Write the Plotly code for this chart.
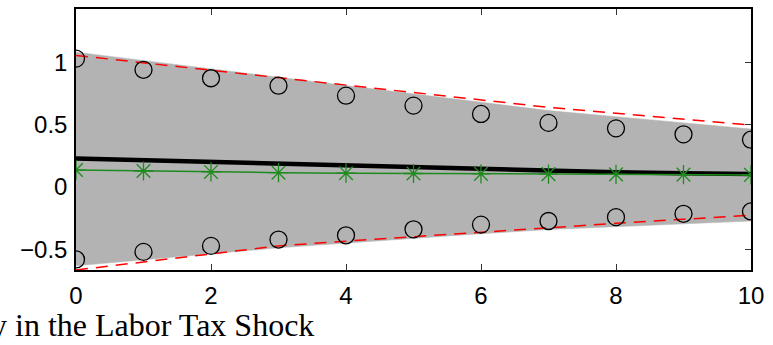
import plotly.graph_objects as go

# Horizon (periods after the shock)
periods = [0, 1, 2, 3, 4, 5, 6, 7, 8, 9, 10]

# Shaded confidence band
band_upper = [1.084, 1.016, 0.948, 0.880, 0.812, 0.745, 0.680, 0.614, 0.565, 0.515, 0.466]
band_lower = [-0.634, -0.586, -0.538, -0.490, -0.452, -0.414, -0.376, -0.343, -0.319, -0.296, -0.274]

# Dashed bounds
dash_upper = [1.058, 0.998, 0.938, 0.878, 0.818, 0.758, 0.698, 0.640, 0.592, 0.545, 0.498]
dash_lower = [-0.668, -0.603, -0.538, -0.474, -0.436, -0.399, -0.362, -0.326, -0.293, -0.260, -0.228]

# Circle bounds
circ_upper = [1.032, 0.942, 0.874, 0.814, 0.734, 0.654, 0.587, 0.515, 0.471, 0.423, 0.380]
circ_lower = [-0.583, -0.522, -0.474, -0.423, -0.389, -0.341, -0.303, -0.274, -0.243, -0.216, -0.197]

# Central responses
median_resp = [0.228, 0.214, 0.201, 0.190, 0.171, 0.156, 0.141, 0.128, 0.119, 0.111, 0.104]
model_resp = [0.136, 0.128, 0.121, 0.115, 0.111, 0.108, 0.105, 0.103, 0.101, 0.099, 0.097]

x_ticks = [0, 2, 4, 6, 8, 10]
y_ticks = [-0.5, 0, 0.5, 1]
y_tick_text = ["\u22120.5", "0", "0.5", "1"]
caption = "y in the Labor Tax Shock"

fig = go.Figure()

fig.add_trace(go.Scatter(
    x=periods + periods[::-1], y=band_upper + band_lower[::-1],
    fill="toself", fillcolor="rgb(179,179,179)",
    line=dict(color="rgb(179,179,179)", width=0.5),
    mode="lines", hoverinfo="skip", showlegend=False))

for ys in (dash_upper, dash_lower):
    fig.add_trace(go.Scatter(
        x=periods, y=ys, mode="lines",
        line=dict(color="#ff0000", width=1.5, dash="12px,8px"),
        showlegend=False))

for ys in (circ_upper, circ_lower):
    fig.add_trace(go.Scatter(
        x=periods, y=ys, mode="markers",
        marker=dict(symbol="circle-open", size=17, color="black",
                    line=dict(width=1.3, color="black")),
        showlegend=False))

fig.add_trace(go.Scatter(
    x=periods, y=median_resp, mode="lines",
    line=dict(color="black", width=4.5), showlegend=False))

fig.add_trace(go.Scatter(
    x=periods, y=model_resp, mode="lines+markers",
    line=dict(color="#1f8a1f", width=1.5),
    marker=dict(symbol="asterisk-open", size=16, color="#1f8a1f",
                line=dict(width=1.3, color="#1f8a1f")),
    showlegend=False))

fig.add_annotation(
    x=(316 - 76) / 675, y=(270 - 325) / 263, xref="paper", yref="paper",
    text=caption, showarrow=False, xanchor="right", yanchor="middle",
    font=dict(family="Liberation Serif", size=32, color="black"))

axis_font = dict(family="Liberation Sans", size=24, color="black")

fig.update_xaxes(
    range=[0, 10], tickvals=x_ticks, ticks="inside", ticklen=6,
    tickcolor="#333333", tickwidth=1, showline=True, linecolor="black",
    linewidth=2, mirror="ticks", showgrid=False, zeroline=False,
    tickfont=axis_font, ticklabelstandoff=3, layer="below traces")
fig.update_yaxes(
    range=[-0.668, 1.431], tickvals=y_ticks, ticktext=y_tick_text,
    ticks="inside", ticklen=6, tickcolor="#333333", tickwidth=1,
    showline=True, linecolor="black", linewidth=1.5, mirror="ticks",
    showgrid=False, zeroline=False, tickfont=axis_font,
    ticklabelstandoff=2, layer="below traces")

fig.update_layout(
    width=773, height=345,
    margin=dict(l=76, r=22, t=7, b=75),
    plot_bgcolor="white", paper_bgcolor="white")

fig.write_html("out.html")
